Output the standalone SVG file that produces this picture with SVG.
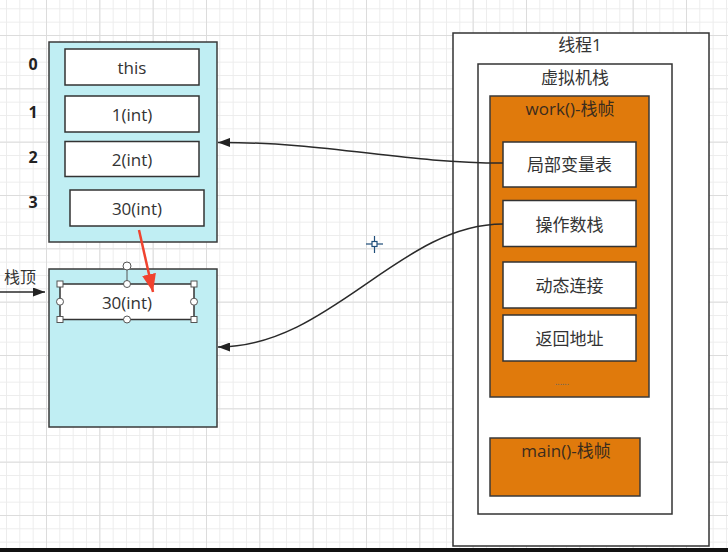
<svg xmlns="http://www.w3.org/2000/svg" width="728" height="552" viewBox="0 0 728 552">
<defs>
<pattern id="minor" x="6" y="8.33" width="13.333" height="13.333" patternUnits="userSpaceOnUse">
<path d="M0 0.5 H13.333 M0.5 0 V13.333" fill="none" stroke="#ececec" stroke-width="1"/>
</pattern>
<pattern id="major" x="46" y="35" width="53.333" height="53.333" patternUnits="userSpaceOnUse">
<path d="M0 0.5 H53.333 M0.5 0 V53.333" fill="none" stroke="#dcdcdc" stroke-width="1"/>
</pattern>
<marker id="ah" markerWidth="13" markerHeight="9" refX="12" refY="4.5" orient="auto" markerUnits="userSpaceOnUse">
<path d="M0 0 L12 4.5 L0 9 Z" fill="#222"/>
</marker>
<marker id="ahr" markerWidth="20" markerHeight="14" refX="18" refY="7" orient="auto" markerUnits="userSpaceOnUse">
<path d="M0 0 L18 7 L0 14 Z" fill="#f0432f"/>
</marker>
</defs>
<style>
text{font-family:"Open Sans","Noto Sans CJK SC","Noto Sans",sans-serif;fill:#333;text-anchor:middle;dominant-baseline:central}
.cyan{fill:#c0eef3;stroke:#3a3a3a;stroke-width:1.5}
.cell{fill:#fff;stroke:#333;stroke-width:1.5}
.org{fill:#e07a0c;stroke:#3a3a3a;stroke-width:1.5}
.wbox{fill:#fff;stroke:#333;stroke-width:1.5}
.lbl{font-size:17px}
.idx{font-size:16px;font-weight:bold;fill:#222}
.conn{fill:none;stroke:#2a2a2a;stroke-width:1.5}
.h{fill:#fff;stroke:#555;stroke-width:1}
</style>
<rect width="728" height="552" fill="#fff"/>
<rect width="728" height="552" fill="url(#minor)"/>
<rect width="728" height="552" fill="url(#major)"/>

<g id="local-vars">
<rect class="cyan" x="49" y="42" width="168" height="200"/>
<text class="idx" x="33" y="64">0</text>
<text class="idx" x="33" y="112">1</text>
<text class="idx" x="33" y="157">2</text>
<text class="idx" x="33" y="202">3</text>
<rect class="cell" x="65" y="49" width="134" height="36"/>
<text class="lbl" x="132" y="67">this</text>
<rect class="cell" x="65" y="96" width="134" height="36"/>
<text class="lbl" x="132" y="114">1(int)</text>
<rect class="cell" x="65" y="141.5" width="134" height="35"/>
<text class="lbl" x="132" y="159">2(int)</text>
<rect class="cell" x="70" y="190" width="134" height="36"/>
<text class="lbl" x="137" y="208">30(int)</text>
</g>

<g id="operand-stack">
<rect class="cyan" x="49" y="269" width="168" height="158"/>
<rect class="cell" x="60" y="284" width="134" height="35.5"/>
<text class="lbl" x="127" y="302">30(int)</text>
<line x1="127" y1="266" x2="127" y2="284" stroke="#555" stroke-width="1"/>
<circle class="h" cx="127" cy="266" r="4"/>
<rect class="h" x="57" y="281" width="6" height="6"/>
<rect class="h" x="191" y="281" width="6" height="6"/>
<rect class="h" x="57" y="316.5" width="6" height="6"/>
<rect class="h" x="191" y="316.5" width="6" height="6"/>
<circle class="h" cx="127" cy="284" r="3.5"/>
<circle class="h" cx="127" cy="319.5" r="3.5"/>
<circle class="h" cx="60" cy="301.7" r="3.5"/>
<circle class="h" cx="194" cy="301.7" r="3.5"/>
<text x="20" y="277" style="font-size:16px">栈顶</text>
</g>

<g id="thread">
<rect x="453" y="33" width="256" height="513" fill="#fff" stroke="#333" stroke-width="1.5"/>
<text class="lbl" x="580" y="44">线程1</text>
</g>
<g id="jvm-stack">
<rect x="478" y="64" width="194" height="450" fill="#fff" stroke="#333" stroke-width="1.5"/>
<text class="lbl" x="575" y="77">虚拟机栈</text>
</g>
<g id="work-frame">
<rect class="org" x="490" y="96" width="159" height="301"/>
<text class="lbl" x="570" y="108" style="fill:#3a2c1e">work()-栈帧</text>
<text x="562" y="381" style="font-size:9px;fill:#666">......</text>
</g>
<g id="local-var-table">
<rect class="wbox" x="503" y="142" width="133" height="45"/>
<text class="lbl" x="569.5" y="164.5">局部变量表</text>
</g>
<g id="operand-stack-item">
<rect class="wbox" x="503" y="200.5" width="133" height="46"/>
<text class="lbl" x="569.5" y="224">操作数栈</text>
</g>
<g id="dynamic-link">
<rect class="wbox" x="503" y="262" width="133" height="46"/>
<text class="lbl" x="569.5" y="285">动态连接</text>
</g>
<g id="return-address">
<rect class="wbox" x="503" y="315" width="133" height="46"/>
<text class="lbl" x="569.5" y="338">返回地址</text>
</g>
<g id="main-frame">
<rect class="org" x="490" y="438" width="150" height="58"/>
<text class="lbl" x="566" y="450" style="fill:#3a2c1e">main()-栈帧</text>
</g>

<g id="connectors">
<path class="conn" d="M503 163 C400 163 330 142 218 142.5" marker-end="url(#ah)"/>
<path class="conn" d="M503 224 C400 224 330 347 218 347" marker-end="url(#ah)"/>
<line class="conn" x1="0" y1="292" x2="45" y2="292" marker-end="url(#ah)"/>
<line x1="139" y1="230" x2="153" y2="292" stroke="#f0432f" stroke-width="2.5" marker-end="url(#ahr)"/>
</g>

<g id="cursor" stroke="#1f4e79" stroke-width="1.2" fill="#fff">
<line x1="366" y1="244" x2="383" y2="244"/>
<line x1="374.5" y1="236" x2="374.5" y2="253"/>
<rect x="372" y="241.5" width="5" height="5"/>
</g>
<rect x="0" y="548" width="728" height="4" fill="#111"/>
</svg>
